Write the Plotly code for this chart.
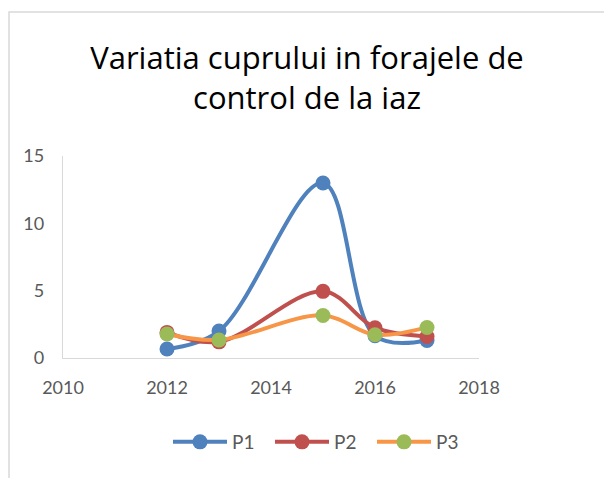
import plotly.graph_objects as go

years = [2012, 2013, 2015, 2016, 2017]
p1 = [0.67, 2.0, 13.0, 1.65, 1.3]
p2 = [1.9, 1.2, 4.95, 2.25, 1.6]
p3 = [1.78, 1.34, 3.16, 1.73, 2.27]

series = [
    ("P1", p1, "#4F81BD", "#4F81BD"),
    ("P2", p2, "#C0504D", "#C0504D"),
    ("P3", p3, "#F79646", "#9BBB59"),
]

fig = go.Figure()
for name, vals, lc, mc in series:
    fig.add_trace(go.Scatter(
        x=years, y=vals, name=name, mode="lines+markers",
        line=dict(color=lc, width=4, shape="spline", smoothing=1),
        marker=dict(color=mc, size=15),
    ))

OFF = 8  # default page body margin
W, H = 612 - OFF, 478 - OFF
L, R, T, B = 63 - OFF, 479 - OFF, 156 - OFF, 358 - OFF

fig.update_layout(
    width=W, height=H,
    margin=dict(l=L, r=W - R, t=T, b=H - B),
    paper_bgcolor="white", plot_bgcolor="white",
    font=dict(family="Lato", color="#595959", size=18),
    title=dict(text="Variatia cuprului in forajele de<br>control de la iaz",
               font=dict(family="Open Sans", size=31, color="black"),
               x=(307 - OFF) / W, xanchor="center", y=1 - 61 / H, yanchor="top",
               xref="container", yref="container"),
    xaxis=dict(range=[2010, 2018], dtick=2, tick0=2010, showgrid=False,
               showline=True, linecolor="#D9D9D9", linewidth=1.3,
               zeroline=False, ticks="", ticklabelstandoff=13),
    yaxis=dict(range=[0, 15], dtick=5, showgrid=False,
               showline=True, linecolor="#D9D9D9", linewidth=1.3,
               zeroline=False, ticks="", ticklabelstandoff=14),
    legend=dict(orientation="h", xref="container", yref="container",
                x=(168 - OFF) / W, xanchor="left", y=1 - (442 - OFF) / H,
                yanchor="middle", font=dict(size=19), itemwidth=54,
                entrywidth=33, entrywidthmode="pixels"),
    showlegend=True,
)

# chart border
fig.add_shape(type="rect", xref="paper", yref="paper",
              x0=(1 - L) / (R - L), x1=(640 - L) / (R - L),
              y0=(B - 500) / (B - T), y1=(B - 4) / (B - T),
              line=dict(color="#D9D9D9", width=1.5), layer="below")

fig.write_html("out.html")
